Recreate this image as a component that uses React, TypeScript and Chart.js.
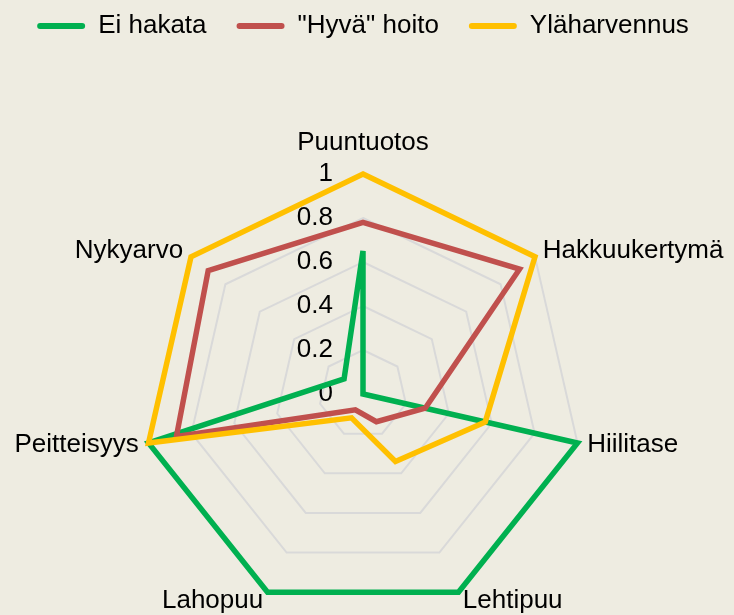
import React, { useEffect, useRef } from 'react';
import { Chart, registerables } from 'chart.js';

Chart.register(...registerables);

const categories = ['Puuntuotos', 'Hakkuukertymä', 'Hiilitase', 'Lehtipuu', 'Lahopuu', 'Peitteisyys', 'Nykyarvo'];
const eiHakata = [0.65, 0, 1, 1, 1, 1, 0.11];
const hyvaHoito = [0.78, 0.91, 0.29, 0.14, 0.08, 0.87, 0.9];
const ylaharvennus = [1, 1, 0.57, 0.34, 0.12, 1, 1];
const seriesNames = ['Ei hakata', '"Hyvä" hoito', 'Yläharvennus'];
const seriesColors = ['#00B050', '#C0504D', '#FFC000'];
const tickLabels = ['0', '0.2', '0.4', '0.6', '0.8', '1'];

const FONT = '"Liberation Sans", Arial, sans-serif';
const BG = '#EEECE1';

const labelPlugin = {
  id: 'radarLabels',
  beforeDatasetsDraw(chart: any) {
    const s = chart.scales.r;
    const ctx = chart.ctx;
    ctx.save();
    ctx.font = `26px ${FONT}`;
    ctx.fillStyle = '#000';
    ctx.textAlign = 'right';
    ctx.textBaseline = 'middle';
    tickLabels.forEach((t) => {
      const d = s.getDistanceFromCenterForValue(parseFloat(t));
      ctx.fillText(t, s.xCenter - 30, s.yCenter - d);
    });
    ctx.restore();
  },
  afterDraw(chart: any) {
    const s = chart.scales.r;
    const ctx = chart.ctx;
    ctx.save();
    ctx.font = `26px ${FONT}`;
    ctx.fillStyle = '#000';
    ctx.textBaseline = 'middle';
    categories.forEach((c, i) => {
      let p = s.getPointPosition(i, s.drawingArea + 10);
      const cosA = Math.cos(p.angle);
      let align: CanvasTextAlign = 'center';
      if (Math.abs(cosA) < 0.05) {
        p = s.getPointPosition(i, s.drawingArea + 31);
      } else {
        align = cosA > 0 ? 'left' : 'right';
      }
      ctx.textAlign = align;
      ctx.fillText(c, p.x, p.y);
    });
    ctx.restore();
  },
};

export default function App() {
  const ref = useRef<HTMLCanvasElement | null>(null);

  useEffect(() => {
    if (!ref.current) return;
    Chart.defaults.font.family = FONT;
    const seriesData = [eiHakata, hyvaHoito, ylaharvennus];
    const orders = [3, 2, 1];
    const chart = new Chart(ref.current, {
      type: 'radar',
      data: {
        labels: categories,
        datasets: seriesData.map((d, i) => ({
          label: seriesNames[i],
          data: d,
          borderColor: seriesColors[i],
          backgroundColor: seriesColors[i],
          borderWidth: 5.5,
          borderJoinStyle: 'miter',
          borderCapStyle: 'round',
          pointRadius: 0,
          pointHoverRadius: 0,
          fill: false,
          tension: 0,
          order: orders[i],
        })),
      },
      options: {
        animation: false,
        responsive: true,
        maintainAspectRatio: false,
        layout: { padding: { top: -17, left: 0, right: 8, bottom: 1 } },
        plugins: {
          tooltip: { enabled: false },
          legend: {
            display: true,
            position: 'top',
            labels: {
              font: { size: 26, family: FONT },
              color: '#000',
              boxWidth: 48,
              boxHeight: 6,
              padding: 30,
              useBorderRadius: true,
              borderRadius: 3,
              generateLabels: (ch: any) =>
                ch.data.datasets.map((ds: any, i: number) => ({
                  text: ds.label,
                  fillStyle: ds.borderColor,
                  strokeStyle: ds.borderColor,
                  lineWidth: 0,
                  hidden: false,
                  datasetIndex: i,
                  borderRadius: 3,
                  fontColor: '#000',
                })),
            },
          },
          title: {
            display: true,
            text: '',
            weight: 500,
            font: { size: 10 },
            padding: { top: 0, bottom: 113 },
          } as any,
        },
        scales: {
          r: {
            min: 0,
            max: 1,
            ticks: { display: false, stepSize: 0.2 },
            grid: { color: '#D9D9D9', lineWidth: 2 },
            angleLines: { display: false },
            pointLabels: { display: false },
          },
        },
      },
      plugins: [labelPlugin],
    } as any);
    return () => chart.destroy();
  }, []);

  return (
    <div
      style={{
        position: 'fixed',
        left: 0,
        top: 0,
        width: 734,
        height: 615,
        background: BG,
      }}
    >
      <canvas ref={ref} />
    </div>
  );
}
